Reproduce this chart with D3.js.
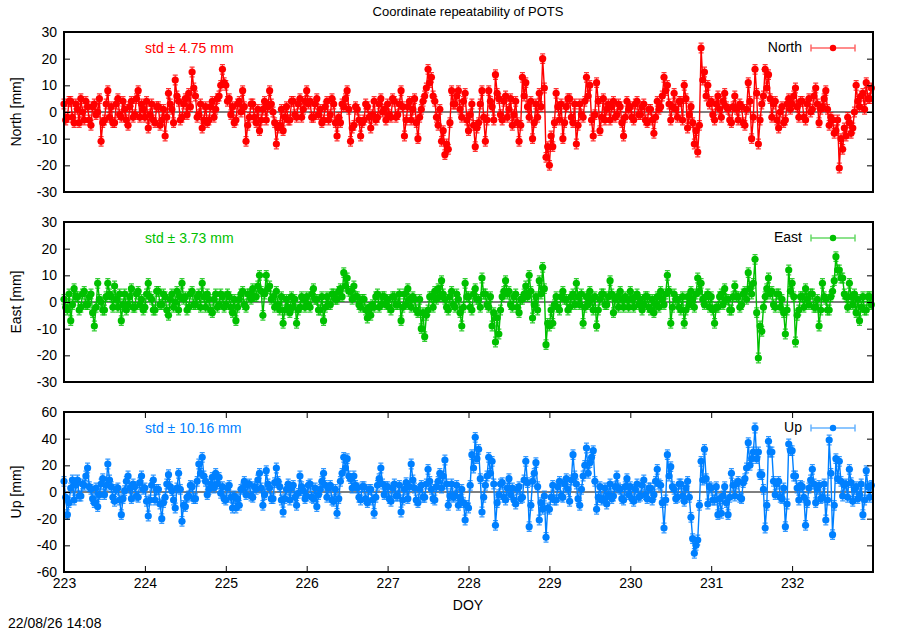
<!DOCTYPE html>
<html>
<head>
<meta charset="utf-8">
<script src="https://cdn.jsdelivr.net/npm/d3@7/dist/d3.min.js"></script>
<style>
    body { margin: 0; background: #fff; }
    svg { font-family: "Liberation Sans", Arial, sans-serif; }
    .axis text { font-size: 14px; fill: #000; }
    .axis line { stroke: #000; }
</style>
</head>
<body>
<div id="chart"></div>
<script>
// 30 min solutions, DOY 223 - 232 (48 per day, one row per day)
var startDoy = 223;
var perDay = 48;

var north = [
    3,-3, -2,4, 4,-2, -4,3, 1,-4, 5,0, -3,4, 2,-3, -5,2, 3,-1, 0,5, -11,-4, -3,3, 8,-2, 2,-4, -4,3, 5,-1, -2,4, 1,-3, -5,2, 4,-2, -1,5, 8,-2, 3,1,
    -2,4, -6,-1, 3,-3, -4,2, 2,-5, -3,1, -9,-2, 7,3, 1,-4, 12,6, 4,-3, -2,3, 5,-1, 7,2, 15,9, 6,-2, -1,3, -6,-3, 2,-4, -3,2, 4,-2, 1,5, 6,10, 16,11,
    10,4, 5,-1, 2,-4, -3,3, 4,0, 8,2, -11,-5, -2,3, 3,-2, -4,1, -7,-3, 1,4, -3,2, 8,3, 0,-4, -12,-6, -5,1, -7,-2, 2,-3, -3,4, 4,-1, -2,3, 5,-2, 1,4,
    8,3, 4,-2, -2,3, 5,-1, 1,-4, -3,2, 4,-3, -1,5, 3,-4, -9,-2, -4,3, 2,5, 8,1, -11,-6, -5,2, 1,-3, -9,-4, -3,3, 2,-2, -6,-1, 4,-3, -2,3, 5,0, 1,-3,
    3,-1, -2,5, 4,-2, -1,3, 8,2, -9,-3, 2,4, -3,1, 5,-4, -10,-2, 1,4, 6,9, 16,11, 13,6, 4,-2, -5,1, -11,-7, -16,-12, -14,-4, 8,3, 3,6, 8,1, -2,4, 7,-3,
    -7,-1, 3,-5, -13,-6, -4,3, 8,-2, -11,-3, 8,4, 2,-3, 14,7, 5,-1, -3,4, 6,-2, 1,5, -5,-1, 4,-4, -11,-5, 13,6, 11,2, -2,4, -10,-4, 3,-2, 7,2, 20,9, -17,-13,
    -20,-9, -13,-4, 7,2, -3,3, -10,-4, 2,5, 5,-2, -4,3, -12,-5, 3,-1, -2,4, 13,6, 10,-3, -9,-1, 11,4, -7,-2, 5,-3, 1,3, -3,2, 4,-2, -1,3, 2,-4, -9,-2, 4,1,
    2,-2, -3,3, 4,-1, -1,2, 3,-3, -4,1, 1,-3, -8,-2, 4,1, 2,6, 13,8, 10,3, -3,2, 7,1, -2,4, 4,-3, 10,5, -6,-1, 2,-4, -12,-7, -15,-5, 24,12, 15,6, 10,3,
    4,-1, -3,3, 6,1, -2,4, 7,2, 1,-3, -4,2, 6,1, -3,3, 2,-4, -5,1, 11,4, -10,-2, 16,7, -12,-3, 3,6, 16,9, 14,5, -2,3, 4,-3, -6,0, 2,-4, -3,3, 5,1,
    3,6, 9,2, -2,4, 4,-2, -3,3, 5,0, 1,6, 9,3, -4,1, 2,5, 8,1, -5,-2, -3,-8, -7,-3, -21,-10, -14,-6, -9,-2, -4,-8, -6,0, 10,4, 2,6, 7,1, 11,5, 5,9
];

var east = [
    1,-2, -3,3, -7,-1, 5,2, 2,-3, -2,3, 4,-1, -1,2, 3,-4, -9,-2, 7,1, 0,-3, -3,2, 7,3, 2,-2, 6,1, -2,3, -7,-1, 3,-3, -1,2, 5,-2, -2,3, 4,-1, 1,-3,
    -2,3, 7,2, 1,-3, -3,4, 4,-1, -1,3, 2,-3, -5,1, 3,-2, 0,4, -3,2, 7,1, 2,-3, -2,3, 4,-1, -1,2, 3,-2, 7,2, -2,3, 1,-3, -4,1, 3,-2, -1,3, 2,-2,
    -1,3, 2,-2, -4,1, -7,-2, 1,3, 4,-1, -2,3, 3,1, 5,2, 2,6, 10,4, -5,3, 10,5, 6,1, 2,-2, 4,-1, -3,2, -8,-3, 1,-2, -4,2, -2,1, -8,-3, -2,2, 1,-2,
    2,-1, -2,3, 5,1, 1,-3, -3,2, -7,-2, 2,-1, -1,3, 3,1, 1,4, 5,2, 11,6, 9,4, 4,1, 6,2, 2,-1, -2,1, 1,-3, -6,-2, -5,-1, -2,2, 3,-2, -1,2, 2,-1,
    1,-2, -3,2, 2,-1, -1,3, -7,-2, 3,-1, 5,1, -2,2, 1,-3, -4,1, -10,-4, -13,-5, -3,2, 2,-2, 4,1, 5,2, 8,3, 1,-2, -3,2, 4,-1, -2,3, 1,-4, -9,-2, 7,2,
    2,-2, -3,3, 5,1, 1,-2, 9,3, 3,-1, -2,2, -9,-4, -15,-6, -12,-3, 2,4, 8,3, 4,-1, -2,2, 3,-2, -4,1, 1,3, 6,2, 10,4, -6,-1, 2,-3, 8,3, 13,5, -16,-8,
    -9,-3, -8,-1, 2,-2, -3,2, 4,1, 1,-3, -2,2, 3,-1, 7,2, -1,3, -8,-2, 2,-1, 4,1, -3,2, -9,-3, 1,3, 3,-1, -1,2, 8,3, -4,1, 2,-2, 4,1, -2,2, 1,-2,
    4,1, -2,2, 3,-1, 1,-3, -1,2, 2,-2, -3,1, -4,-1, 2,-2, 4,1, -1,3, 10,4, -8,-2, 3,1, 1,-2, -3,2, -8,-3, 2,-1, 4,1, -2,3, 9,4, 7,1, -1,2, 3,-2,
    2,-3, -8,-2, -2,2, 3,-1, 5,1, 1,-3, -3,2, 6,2, 2,-2, -1,3, 4,1, 11,5, 3,7, 16,-4, -21,-9, -11,-2, 2,5, 9,3, 4,-1, -2,3, 3,-2, 1,-4, -12,-3, 12,4,
    7,2, -15,-5, -3,2, 2,-2, 5,1, -1,3, 3,-2, -2,1, -9,-3, 7,2, 1,-3, -3,2, 4,8, 17,12, 12,9, 9,3, 2,-2, 7,2, -1,3, -4,1, -7,-2, 2,-3, -3,2, 2,-1
];

var up = [
    8,-4, -17,-8, 3,9, -6,5, 9,-3, -3,6, 5,12, 18,4, 2,-5, -8,3, -11,-2, 6,10, -2,5, 21,9, 4,-4, -7,2, 3,-6, -17,-5, 1,8, 12,3, -5,6, 4,-3, -4,7, 12,2,
    3,-7, -18,-6, 5,9, -6,2, 2,-9, -20,-8, -4,6, 13,4, 1,-6, -12,3, 14,2, -22,-10, -11,-4, -3,5, 4,-5, -5,8, 21,14, 26,12, 8,-2, 2,6, 11,3, 14,6, 11,-1, 4,-5,
    -6,3, 5,-4, -12,-3, -12,-5, -10,2, 3,8, -2,5, 6,-3, -4,4, 2,9, 14,3, -10,-2, 16,6, 3,-5, -5,7, 18,8, 4,-6, -15,-5, 2,6, -6,3, 5,-4, -10,-1, 12,4, 1,-5,
    -3,5, 6,-4, -5,3, -11,-2, 2,8, 14,5, -4,3, 5,-6, -7,2, -16,-5, 8,14, 26,18, 25,12, 10,3, 12,5, 3,-4, -6,4, 4,-5, -8,2, 2,-6, -16,-4, 5,10, 18,6, -2,4,
    4,-5, -7,3, 6,-3, -3,5, -15,-6, 2,7, -5,4, 21,9, 3,-6, -8,2, 5,-4, -4,6, 17,8, 2,-5, -6,4, 8,14, 3,12, 24,6, -10,-3, 6,-4, -3,5, -10,-4, 2,-8, -21,-10,
    -12,5, 28,18, 41,25, 32,10, -15,-4, 5,12, 26,14, 23,6, -25,-8, -2,6, 7,-4, -6,3, 10,-2, 3,-6, -9,2, 4,-5, -4,9, 23,7, -26,-10, 8,14, 22,4, -21,-8, -13,-3, -34,-12,
    -13,-4, 5,-6, -6,4, 8,-3, -4,6, 10,2, -7,9, 28,12, 6,-5, -10,2, 12,20, 33,14, 22,26, 31,8, -13,-4, 4,-6, -5,3, -9,-2, 6,-5, -3,4, 12,3, 2,-5, -6,4, 10,-2,
    4,-5, -7,2, 6,-4, -3,5, 9,-2, -5,3, 3,-6, -2,8, 17,6, 5,-8, -27,-6, 28,12, 19,4, 2,-5, -4,6, 6,-3, -7,3, 8,-4, -19,-35, -46,-40, -36,-10, 23,9, 32,10, -9,4,
    3,-6, -6,4, -17,-5, -16,-3, 4,-8, -17,-4, 14,5, -3,6, 8,-4, -5,7, 10,18, 37,20, 25,30, 48,25, 30,13, 13,2, -27,-10, 38,30, 30,8, -2,6, 8,-4, -5,3, -26,-9, 36,31,
    31,12, 12,3, -6,5, 4,-4, -25,-8, 3,9, 17,6, -8,2, 5,-5, -4,6, -21,-6, 39,14, -32,-10, 25,10, 23,8, -3,5, 6,-4, 17,7, -7,2, 4,-5, -2,6, -17,-6, 16,4, -4,5
];

// formal errors [mm]
var errNorth = 1.8;
var errEast = 1.8;
var errUp = 3.6;

var xTicks = [223, 224, 225, 226, 227, 228, 229, 230, 231, 232];
var yTicksHoriz = [-30, -20, -10, 0, 10, 20, 30];
var yTicksUp = [-60, -40, -20, 0, 20, 40, 60];

var svg = d3.select("#chart").append("svg")
    .attr("width", 900)
    .attr("height", 630);

var x = d3.scaleLinear()
    .domain([223, 233])
    .range([64, 873]);

PanelChart = function(_svg, _data, _config) {
    this.svg = _svg;
    this.data = _data;
    this.config = _config;
    this.initVis();
}

PanelChart.prototype.initVis = function() {
    var vis = this;
    var c = vis.config;

    vis.top = c.top;
    vis.height = 160;

    vis.y = d3.scaleLinear()
        .domain(c.domain)
        .range([vis.top + vis.height, vis.top]);

    vis.points = vis.data.map(function(d, i) {
        return {doy: startDoy + i / perDay, val: d};
    });

    vis.g = vis.svg.append("g");

    // zero line
    vis.g.append("line")
        .attr("x1", x.range()[0])
        .attr("x2", x.range()[1])
        .attr("y1", vis.y(0))
        .attr("y2", vis.y(0))
        .attr("stroke", "#000")
        .attr("stroke-width", 1);

    var line = d3.line()
        .x(function(d) { return x(d.doy); })
        .y(function(d) { return vis.y(d.val); });

    vis.g.append("path")
        .datum(vis.points)
        .attr("fill", "none")
        .attr("stroke", c.color)
        .attr("stroke-width", 1.4)
        .attr("d", line);

    // error bars
    var bars = vis.g.append("g")
        .attr("stroke", c.color)
        .attr("stroke-opacity", 0.8)
        .attr("stroke-width", 1.2);

    bars.selectAll("path")
        .data(vis.points)
        .enter().append("path")
        .attr("d", function(d) {
            var px = x(d.doy),
                y1 = vis.y(d.val - c.err),
                y2 = vis.y(d.val + c.err);
            return "M" + px + "," + y1 + "V" + y2 +
                "M" + (px - 2.5) + "," + y1 + "H" + (px + 2.5) +
                "M" + (px - 2.5) + "," + y2 + "H" + (px + 2.5);
        });

    vis.g.append("g")
        .attr("fill", c.color)
        .selectAll("circle")
        .data(vis.points)
        .enter().append("circle")
        .attr("cx", function(d) { return x(d.doy); })
        .attr("cy", function(d) { return vis.y(d.val); })
        .attr("r", 3.6);

    // y axis left + mirror right
    vis.svg.append("g")
        .attr("class", "axis")
        .attr("transform", "translate(" + x.range()[0] + ",0)")
        .call(d3.axisLeft(vis.y)
            .tickValues(c.yTicks)
            .tickSizeInner(-6)
            .tickSizeOuter(0)
            .tickPadding(7)
            .tickFormat(function(d) { return String(d); }))
        .call(function(g) { g.select(".domain").remove(); });

    vis.svg.append("g")
        .attr("class", "axis")
        .attr("transform", "translate(" + x.range()[1] + ",0)")
        .call(d3.axisRight(vis.y)
            .tickValues(c.yTicks)
            .tickSizeInner(-6)
            .tickSizeOuter(0)
            .tickFormat(""))
        .call(function(g) { g.select(".domain").remove(); });

    if (c.xAxis) {
        vis.svg.append("g")
            .attr("class", "axis")
            .attr("transform", "translate(0," + (vis.top + vis.height) + ")")
            .call(d3.axisBottom(x)
                .tickValues(xTicks)
                .tickSizeInner(-6)
                .tickSizeOuter(0)
                .tickPadding(6)
                .tickFormat(function(d) { return String(d); }))
            .call(function(g) { g.select(".domain").remove(); });

        vis.svg.append("g")
            .attr("class", "axis")
            .attr("transform", "translate(0," + vis.top + ")")
            .call(d3.axisTop(x)
                .tickValues(xTicks)
                .tickSizeInner(-6)
                .tickSizeOuter(0)
                .tickFormat(""))
            .call(function(g) { g.select(".domain").remove(); });
    }

    // frame
    vis.svg.append("rect")
        .attr("x", x.range()[0])
        .attr("y", vis.top)
        .attr("width", x.range()[1] - x.range()[0])
        .attr("height", vis.height)
        .attr("fill", "none")
        .attr("stroke", "#000")
        .attr("stroke-width", 2);

    // y label
    vis.svg.append("text")
        .attr("transform", "translate(21," + (vis.top + vis.height / 2) + ") rotate(-90)")
        .attr("text-anchor", "middle")
        .attr("font-size", 14)
        .text(c.label);

    // std
    vis.svg.append("text")
        .attr("x", 145)
        .attr("y", vis.top + 21)
        .attr("font-size", 14)
        .attr("fill", c.color)
        .text(c.std);

    // legend
    var ly = vis.top + 16;
    vis.svg.append("text")
        .attr("x", 802)
        .attr("y", vis.top + 20)
        .attr("text-anchor", "end")
        .attr("font-size", 14)
        .text(c.name);

    vis.svg.append("path")
        .attr("d", "M811," + ly + "H855M811," + (ly - 3.5) + "V" + (ly + 3.5) +
            "M855," + (ly - 3.5) + "V" + (ly + 3.5))
        .attr("stroke", c.color)
        .attr("stroke-opacity", 0.6)
        .attr("stroke-width", 1.5)
        .attr("fill", "none");

    vis.svg.append("circle")
        .attr("cx", 833)
        .attr("cy", ly)
        .attr("r", 3.2)
        .attr("fill", c.color);
}

var northChart = new PanelChart(svg, north, {
    top: 32, domain: [-30, 30], yTicks: yTicksHoriz, color: "#ff0000", err: errNorth,
    label: "North [mm]", name: "North", std: "std \u00b1 4.75 mm", xAxis: false
});
var eastChart = new PanelChart(svg, east, {
    top: 222, domain: [-30, 30], yTicks: yTicksHoriz, color: "#00c000", err: errEast,
    label: "East [mm]", name: "East", std: "std \u00b1 3.73 mm", xAxis: false
});
var upChart = new PanelChart(svg, up, {
    top: 412, domain: [-60, 60], yTicks: yTicksUp, color: "#0080ff", err: errUp,
    label: "Up [mm]", name: "Up", std: "std \u00b1 10.16 mm", xAxis: true
});

svg.append("text")
    .attr("x", 468)
    .attr("y", 16)
    .attr("text-anchor", "middle")
    .attr("font-size", 13)
    .text("Coordinate repeatability of POTS");

svg.append("text")
    .attr("x", 468)
    .attr("y", 610)
    .attr("text-anchor", "middle")
    .attr("font-size", 14)
    .text("DOY");

svg.append("text")
    .attr("x", 8)
    .attr("y", 628)
    .attr("font-size", 14)
    .text("22/08/26 14:08");
</script>
</body>
</html>
